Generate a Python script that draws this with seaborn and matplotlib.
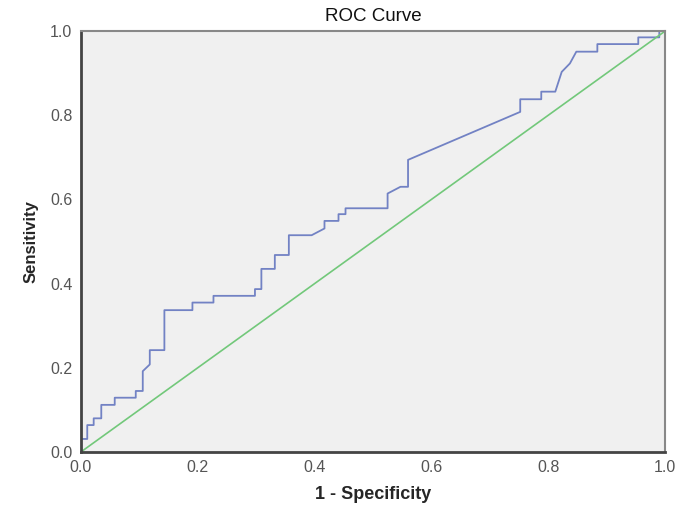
import matplotlib
matplotlib.use("Agg")
import matplotlib.pyplot as plt
import seaborn as sns
import pandas as pd

# ROC curve vertices (1 - specificity, sensitivity)
FPR = [0.000, 0.000, 0.011, 0.011, 0.022, 0.022, 0.035, 0.035, 0.058, 0.058,
       0.094, 0.094, 0.106, 0.106, 0.118, 0.118, 0.143, 0.143, 0.191, 0.191,
       0.227, 0.227, 0.298, 0.298, 0.309, 0.309, 0.332, 0.332, 0.356, 0.356,
       0.395, 0.417, 0.417, 0.441, 0.441, 0.453, 0.453, 0.525, 0.525, 0.547,
       0.560, 0.560, 0.752, 0.752, 0.788, 0.788, 0.812, 0.823, 0.837, 0.848,
       0.884, 0.884, 0.954, 0.954, 0.990, 0.990, 1.000]
TPR = [0.000, 0.031, 0.031, 0.064, 0.064, 0.080, 0.080, 0.112, 0.112, 0.129,
       0.129, 0.145, 0.145, 0.192, 0.208, 0.242, 0.242, 0.337, 0.337, 0.355,
       0.355, 0.371, 0.371, 0.387, 0.387, 0.435, 0.435, 0.468, 0.468, 0.515,
       0.515, 0.531, 0.549, 0.549, 0.565, 0.565, 0.579, 0.579, 0.614, 0.630,
       0.630, 0.694, 0.808, 0.838, 0.838, 0.856, 0.856, 0.903, 0.923, 0.951,
       0.951, 0.969, 0.969, 0.985, 0.985, 1.000, 1.000]
REF_X = [0.0, 1.0]
REF_Y = [0.0, 1.0]
TICKS = [0.0, 0.2, 0.4, 0.6, 0.8, 1.0]

roc = pd.DataFrame({"fpr": FPR, "tpr": TPR})
ref = pd.DataFrame({"x": REF_X, "y": REF_Y})

sns.set_style("white")
plt.rcParams["font.family"] = ["Liberation Sans", "DejaVu Sans"]

fig = plt.figure(figsize=(6.85, 5.14), dpi=100)
ax = fig.add_axes([0.118, 0.1206, 0.853, 0.819])
ax.set_facecolor("#f0f0f0")

# estimator=None keeps every vertex so the steps are drawn as-is
sns.lineplot(data=roc, x="fpr", y="tpr", sort=False, estimator=None,
             color="#7282c4", linewidth=1.3, ax=ax)
sns.lineplot(data=ref, x="x", y="y", sort=False, estimator=None,
             color="#72c87a", linewidth=1.2, ax=ax)

ax.set_xlim(0, 1)
ax.set_ylim(0, 1)
ax.set_xticks(TICKS)
ax.set_yticks(TICKS)
ax.set_xticklabels([f"{t:.1f}" for t in TICKS])
ax.set_yticklabels([f"{t:.1f}" for t in TICKS])
ax.tick_params(axis="both", direction="out", length=5, width=1.5,
               color="#444444", labelcolor="#555555", labelsize=11.5, pad=1)

for side in ["left", "bottom"]:
    ax.spines[side].set_color("#444444")
    ax.spines[side].set_linewidth(2)
for side in ["top", "right"]:
    ax.spines[side].set_color("#888888")
    ax.spines[side].set_linewidth(1.5)

ax.set_title("ROC Curve", fontsize=13.5, color="#111111", pad=7)
ax.set_xlabel("1 - Specificity", fontsize=13, fontweight="bold", labelpad=8)
ax.set_ylabel("Sensitivity", fontsize=12, fontweight="bold", labelpad=8)

fig.savefig("out.png", dpi=100)
plt.close(fig)
